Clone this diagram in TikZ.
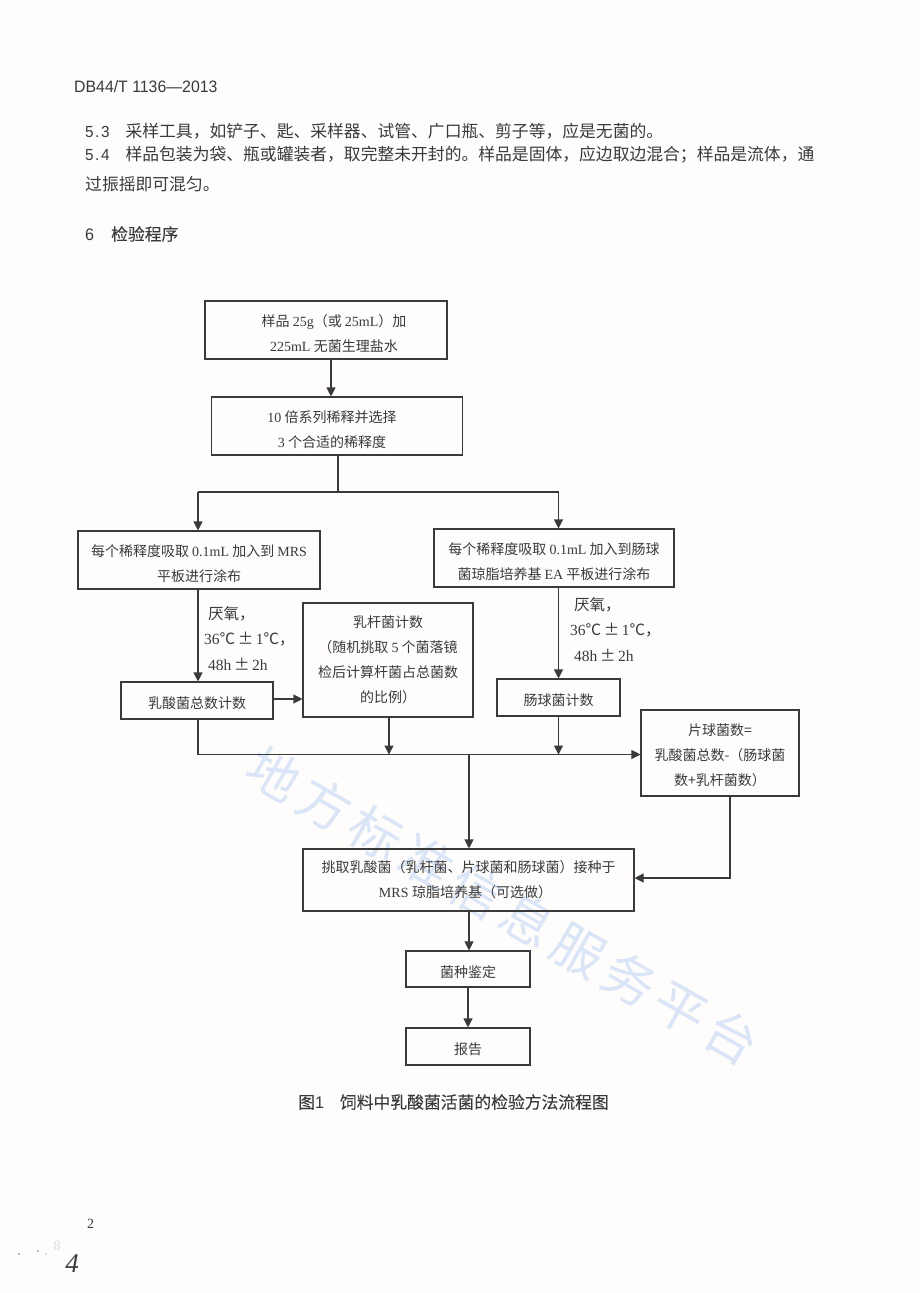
\documentclass[tikz,border=0pt]{standalone}
\usepackage{fontspec}
\usetikzlibrary{arrows.meta}
\setmainfont{Liberation Serif}
\newfontfamily\cjk{Noto Sans CJK SC}
\newfontfamily\cjkh[FakeBold=0.15]{Noto Sans CJK SC}
\newfontfamily\wmf[LetterSpace=13]{Noto Sans CJK SC}
\newfontfamily\hdr[FakeStretch=0.96]{Liberation Sans}
\definecolor{ink}{HTML}{3A3A3A}
\definecolor{paper}{HTML}{FEFDFB}
\definecolor{wm}{HTML}{DAE6F7}
\definecolor{speck}{HTML}{D9D9D9}
\newcommand{\cn}[1]{{\cjk #1}}
\newcommand{\ch}[1]{{\cjkh #1}}
\newcommand{\dnA}{\rule{0pt}{16.8pt}}
\newcommand{\dnB}{\rule{0pt}{18.3pt}}
\tikzset{
  x=1pt,y=-1pt,
  box/.style={draw=ink,line width=1.1pt,inner sep=0pt,align=center,text=ink,font=\fontsize{14}{25}\selectfont},
  flow/.style={draw=ink,line width=1.1pt,-{Triangle[length=9pt,width=9pt]}},
  plain/.style={draw=ink,line width=1.1pt},
  note/.style={inner sep=0pt,align=left,text=ink,font=\fontsize{15.5}{25.5}\selectfont,anchor=north west},
  bodytext/.style={inner sep=0pt,anchor=west,text=ink,font=\fontsize{16.8}{20}\selectfont},
}
\begin{document}
\begin{tikzpicture}
\path[use as bounding box,fill=paper] (0,0) rectangle (920,1293);
% watermark
\node[rotate=-29.8,text=wm,inner sep=0pt,font=\fontsize{52}{52}\selectfont] (wmk) at (503,906) {\wmf 地方标准信息服务平台};
% page text
\node[bodytext,font=\fontsize{16.5}{18}\selectfont] (hd) at (74,87) {\hdr DB44/T 1136—2013};
\node[bodytext] (l1) at (85,131) {\hdr\fontsize{16}{20}\selectfont 5\kern1.5pt.\kern1.5pt3\hspace{16pt}\cn{\fontsize{16.8}{20}\selectfont 采样工具，如铲子、匙、采样器、试管、广口瓶、剪子等，应是无菌的。}};
\node[bodytext] (l2) at (85,155) {\hdr\fontsize{16}{20}\selectfont 5\kern1.5pt.\kern1.5pt4\hspace{16pt}\cn{\fontsize{16.8}{20}\selectfont 样品包装为袋、瓶或罐装者，取完整未开封的。样品是固体，应边取边混合；样品是流体，通}};
\node[bodytext] (l3) at (85,184) {\cn{过振摇即可混匀。}};
\node[bodytext] (h6) at (85,234) {\hdr 6\hspace{17pt}\ch{检验程序}};
% boxes
\node[box,minimum width=242pt,minimum height=58pt] (b1) at (326,330) {\hspace*{16pt}\dnB\cn{样品 }25g\cn{（或 }25mL\cn{）加}\\\hspace*{16pt}225mL \cn{无菌生理盐水}};
\node[box,minimum width=251pt,minimum height=58pt] (b2) at (337,426) {\dnB 10\cn{ 倍系列稀释并选择}\hspace*{10pt}\\3\cn{ 个合适的稀释度}\hspace*{10pt}};
\node[box,minimum width=242pt,minimum height=58pt] (b3) at (199,560) {\dnB\cn{每个稀释度吸取 }0.1mL\cn{ 加入到 }MRS\\\cn{平板进行涂布}};
\node[box,minimum width=240pt,minimum height=58pt] (b6) at (554,558) {\dnB\cn{每个稀释度吸取 }0.1mL\cn{ 加入到肠球}\\\cn{菌琼脂培养基 }EA\cn{ 平板进行涂布}};
\node[box,minimum width=152pt,minimum height=37pt] (b4) at (197,700.5) {\dnA\cn{乳酸菌总数计数}};
\node[box,minimum width=170pt,minimum height=114pt] (b5) at (388,660) {\cn{乳杆菌计数}\\\cn{（随机挑取 }5\cn{ 个菌落镜}\\\cn{检后计算杆菌占总菌数}\\\cn{的比例）}};
\node[box,minimum width=123pt,minimum height=37pt] (b7) at (558.5,697.5) {\dnA\cn{肠球菌计数}};
\node[box,minimum width=158pt,minimum height=86pt] (b8) at (720,753) {\dnA\cn{片球菌数=}\\\cn{乳酸菌总数-（肠球菌}\\\cn{数+乳杆菌数）}};
\node[box,minimum width=331pt,minimum height=62pt] (b9) at (468.5,880) {\cn{挑取乳酸菌（乳杆菌、片球菌和肠球菌）接种于}\\MRS \cn{琼脂培养基（可选做）}\hspace*{6pt}};
\node[box,minimum width=124pt,minimum height=36pt] (b10) at (468,969) {\dnB\cn{菌种鉴定}};
\node[box,minimum width=124pt,minimum height=37pt] (b11) at (468,1046.5) {\dnA\cn{报告}};
% notes
\node[note] (n1) at (208,606) {\cn{厌氧，}\\\hspace*{-4pt}36\cn{℃}\,\cn{±}\,1\cn{℃，}\\48h\,\cn{±}\,2h};
\node[note] (n2) at (574,597) {\cn{厌氧，}\\\hspace*{-4pt}36\cn{℃}\,\cn{±}\,1\cn{℃，}\\48h\,\cn{±}\,2h};
% routing coordinates
\coordinate (xa) at (331,0);
\coordinate (ya) at (0,492);
\coordinate (xl) at (198,0);
\coordinate (xr) at (558.5,0);
\coordinate (xm) at (389,0);
\coordinate (yb) at (0,754.5);
\coordinate (xc) at (469,0);
\coordinate (xe) at (730,0);
\coordinate (ye) at (0,878);
\coordinate (yf) at (0,699);
\coordinate (xd) at (338,0);
% connectors
\draw[flow] (b1.south -| xa) -- (b2.north -| xa);
\draw[plain] (b2.south -| xd) -- (xd |- ya);
\draw[plain] (xl |- ya) -- (xr |- ya);
\draw[flow] (xl |- ya) -- (b3.north -| xl);
\draw[flow] (xr |- ya) -- (b6.north -| xr);
\draw[flow] (b3.south -| xl) -- (b4.north -| xl);
\draw[flow] (b6.south -| xr) -- (b7.north -| xr);
\draw[flow] (b4.east |- yf) -- (b5.west |- yf);
\draw[plain] (b4.south -| xl) -- (xl |- yb);
\draw[flow] (xl |- yb) -- (b8.west |- yb);
\draw[flow] (b5.south -| xm) -- (xm |- yb);
\draw[flow] (b7.south -| xr) -- (xr |- yb);
\draw[flow] (xc |- yb) -- (b9.north -| xc);
\draw[flow] (b8.south -| xe) |- (b9.east |- ye);
\draw[flow] (b9.south -| xc) -- (b10.north -| xc);
\draw[flow] (b10.south) -- (b11.north);
% caption and folio
\node[bodytext] (cap) at (298,1102) {\ch{图}\hdr 1\hspace{16pt}\ch{饲料中乳酸菌活菌的检验方法流程图}};
\node[bodytext,font=\fontsize{14}{16}\selectfont] (pg) at (87,1224) {2};
% scan marks at the foot of the page
\node[inner sep=0pt,text=ink,font=\fontsize{27}{27}\selectfont\itshape] (hand) at (72,1264) {4};
\node[inner sep=0pt,text=speck,font=\fontsize{14}{14}\selectfont] (smudge) at (57,1246) {8};
\fill[gray] (19,1254) circle (.8pt) (38,1251) circle (.8pt) (46,1254) circle (.6pt);
\end{tikzpicture}
\end{document}
